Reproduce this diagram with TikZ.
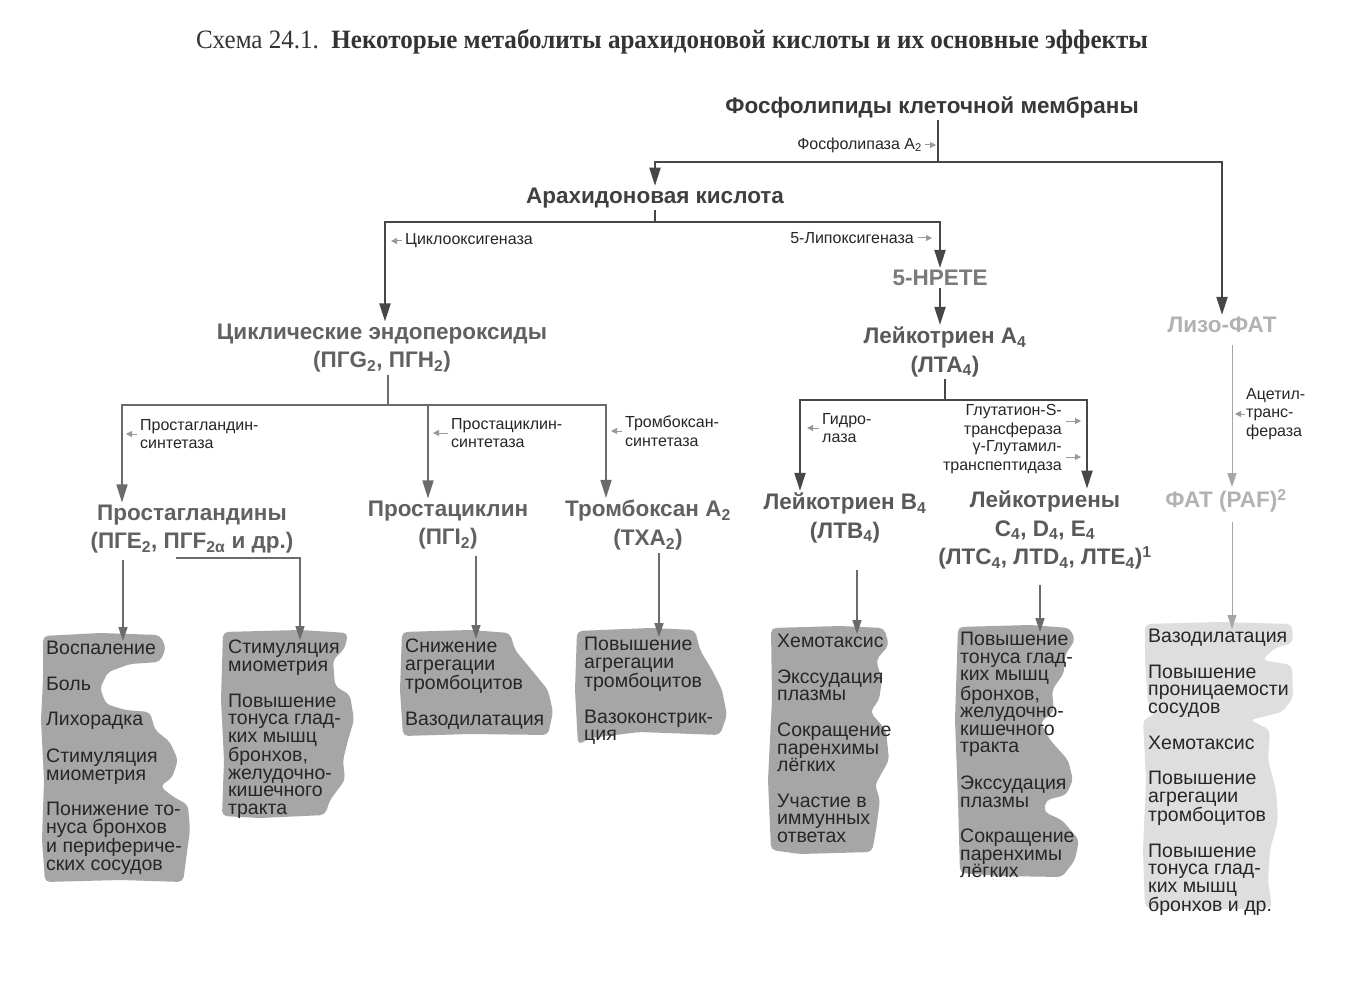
\documentclass[tikz,border=0pt]{standalone}
\usepackage{fontspec}
\setmainfont{Liberation Sans}
\newfontfamily\titleserif{Liberation Serif}
\usepackage{graphicx}
\usetikzlibrary{arrows.meta}
\newcommand\lsub[1]{\textsubscript{#1}}
\newcommand\lsup[1]{\textsuperscript{#1}}
\newcommand\gp{\\[18pt]}
\begin{document}
\begin{tikzpicture}[x=1pt,y=-1pt,
  biglab/.style={font=\bfseries\fontsize{22.5}{28.5}\selectfont, align=center, inner sep=2pt},
  enz/.style={font=\fontsize{16}{18.5}\selectfont, text=black!85, inner sep=0pt, align=left},
  effect/.style={font=\fontsize{19.5}{17.6}\selectfont, align=left, inner sep=0pt, anchor=north west, text=black!85},
  lnmain/.style={draw=black!72, line width=2pt},
  lnmid/.style={draw=black!58, line width=1.6pt},
  lnthin/.style={draw=black!35, line width=1pt},
  arrowbig/.style={-{Triangle[length=18pt,width=11pt]}},
  arrowsm/.style={-{Triangle[length=14pt,width=9pt]}},
  enzarr/.style={draw=black!40, line width=1pt, -{Triangle[length=6pt,width=6pt]}},
  fx/.style={fill=black!35, draw=none, rounded corners=5pt},
  fxl/.style={fill=black!13, draw=none, rounded corners=5pt}]
\useasboundingbox (0,0) rectangle (1351,984);
\fill[white] (0,0) rectangle (1351,984);

% title
\node[text=black!80, inner sep=0pt] (title) at (672,42)
  {\titleserif\fontsize{26.5}{28}\selectfont\resizebox{952pt}{\height}{Схема 24.1.\ \ \textbf{Некоторые метаболиты арахидоновой кислоты и их основные эффекты}}};

% main labels
\node[biglab, text=black!78] (phos) at (932,107) {Фосфолипиды клеточной мембраны};
\node[biglab, text=black!75] (arach) at (655,198) {Арахидоновая кислота};
\node[biglab, text=black!62] (cyclo) at (382,348) {Циклические эндопероксиды\\(ПГG\lsub{2}, ПГН\lsub{2})};
\node[biglab, text=black!52] (hpete) at (940,278) {5-HPETE};
\node[biglab, text=black!65] (lta) at (945,352) {Лейкотриен A\lsub{4}\\(ЛТА\lsub{4})};
\node[biglab, text=black!30] (lyso) at (1222,325) {Лизо-ФАТ};
\node[biglab, text=black!62] (pg) at (192,529) {Простагландины\\(ПГЕ\lsub{2}, ПГF\lsub{2α} и др.)};
\node[biglab, text=black!62] (pgi) at (448,525) {Простациклин\\(ПГI\lsub{2})};
\node[biglab, text=black!62] (tx) at (648,525) {Тромбоксан A\lsub{2}\\(TXA\lsub{2})};
\node[biglab, text=black!65] (ltb) at (845,518) {Лейкотриен B\lsub{4}\\(ЛТВ\lsub{4})};
\node[biglab, text=black!65] (ltc) at (1045,530) {Лейкотриены\\C\lsub{4}, D\lsub{4}, E\lsub{4}\\(ЛТС\lsub{4}, ЛТD\lsub{4}, ЛТЕ\lsub{4})\lsup{1}};
\node[biglab, text=black!30] (paf) at (1226,501) {ФАТ (PAF)\lsup{2}};

% enzyme labels
\node[enz, anchor=east] (pla) at (922,145) {Фосфолипаза A\lsub{2}};
\node[enz, anchor=west] (cox) at (405,241) {Циклооксигеназа};
\node[enz, anchor=east] (lox) at (914,238) {5-Липоксигеназа};
\node[enz, anchor=west] (pgs) at (140,434) {Простагландин-\\синтетаза};
\node[enz, anchor=west] (pcs) at (451,433) {Простациклин-\\синтетаза};
\node[enz, anchor=west] (txs) at (625,431) {Тромбоксан-\\синтетаза};
\node[enz, anchor=west] (hyd) at (822,428) {Гидро-\\лаза};
\node[enz, anchor=east, align=right] (gst) at (1062,421) {Глутатион-S-\\трансфераза};
\node[enz, anchor=east, align=right] (ggt) at (1062,457) {γ-Глутамил-\\транспептидаза};
\node[enz, anchor=west] (act) at (1246,414) {Ацетил-\\транс-\\фераза};

% enzyme arrows
\draw[enzarr] ([xshift=3pt]pla.east) -- ([xshift=14pt]pla.east);
\draw[enzarr] ([xshift=-3pt]cox.west) -- ([xshift=-14pt]cox.west);
\draw[enzarr] ([xshift=4pt]lox.east) -- ([xshift=18pt]lox.east);
\draw[enzarr] ([xshift=-3pt]pgs.west) -- ([xshift=-14pt]pgs.west);
\draw[enzarr] ([xshift=-3pt]pcs.west) -- ([xshift=-18pt]pcs.west);
\draw[enzarr] ([xshift=-3pt]txs.west) -- ([xshift=-14pt]txs.west);
\draw[enzarr] ([xshift=-3pt]hyd.west) -- ([xshift=-15pt]hyd.west);
\draw[enzarr] ([xshift=4pt]gst.east) -- ([xshift=19pt]gst.east);
\draw[enzarr] ([xshift=4pt]ggt.east) -- ([xshift=19pt]ggt.east);
\draw[enzarr] ([xshift=-1pt]act.west) -- ([xshift=-11pt]act.west);

% main connectors
\coordinate (j1) at (938,162);
\coordinate (jl1) at (655,162);
\coordinate (jr1) at (1222,162);
\draw[lnmain] (phos.south -| j1) -- (j1);
\draw[lnmain, arrowbig] (j1) -- (jl1) -- (jl1 |- arach.north);
\draw[lnmain, arrowbig] (j1) -- (jr1) -- (jr1 |- lyso.north);

\coordinate (j2) at (655,222);
\coordinate (jl2) at (385,222);
\coordinate (jr2) at (940,222);
\draw[lnmain] (arach.south -| j2) -- (j2);
\draw[lnmain, arrowbig] (j2) -- (jl2) -- (jl2 |- cyclo.north);
\draw[lnmain, arrowbig] (j2) -- (jr2) -- (jr2 |- hpete.north);
\draw[lnmain, arrowbig] (hpete.south) -- (hpete.south |- lta.north);

\coordinate (j3) at (388,405);
\coordinate (ja3) at (122,405);
\coordinate (jb3) at (428,405);
\coordinate (jc3) at (606,405);
\draw[lnmid] (cyclo.south -| j3) -- (j3);
\draw[lnmid, arrowbig] (j3) -- (ja3) -- (ja3 |- pg.north);
\draw[lnmid, arrowbig] (jb3) -- (jb3 |- pgi.north);
\draw[lnmid, arrowbig] (j3) -- (jc3) -- (jc3 |- tx.north);

\coordinate (j4) at (945,400);
\coordinate (ja4) at (800,400);
\coordinate (jb4) at (1087,400);
\draw[lnmain] (lta.south -| j4) -- (j4);
\draw[lnmain, arrowbig] (j4) -- (ja4) -- (ja4 |- ltb.north);
\draw[lnmain, arrowbig] (j4) -- (jb4) -- (jb4 |- ltc.north);

\coordinate (j5) at (1232,345);
\draw[lnthin, arrowsm] (j5) -- (j5 |- paf.north);

% effect boxes
\path[fx] (43,636) -- (100,633) -- (160,635) -- (166,648) -- (160,662) -- (130,664) -- (108,672) -- (100,688) -- (106,704) -- (125,710) -- (150,712) -- (155,730) -- (170,742) -- (178,760) -- (172,778) -- (160,786) -- (172,796) -- (188,805) -- (190,830) -- (186,860) -- (183,882) -- (120,880) -- (45,882) -- (42,840) -- (44,780) -- (41,720) -- (43,680) -- cycle;
\path[fx] (223,632) -- (300,630) -- (348,633) -- (345,648) -- (333,660) -- (335,686) -- (350,695) -- (354,720) -- (348,740) -- (343,760) -- (345,780) -- (330,800) -- (325,815) -- (260,818) -- (222,816) -- (224,760) -- (221,700) -- cycle;
\path[fx] (402,632) -- (470,630) -- (510,633) -- (515,650) -- (530,668) -- (548,690) -- (553,712) -- (548,735) -- (470,734) -- (403,736) -- (400,690) -- cycle;
\path[fx] (577,631) -- (650,628) -- (695,630) -- (700,650) -- (712,670) -- (722,690) -- (727,715) -- (720,735) -- (640,732) -- (590,738) -- (578,745) -- (575,690) -- cycle;
\path[fx] (771,628) -- (840,626) -- (884,628) -- (889,645) -- (876,660) -- (882,680) -- (879,700) -- (870,712) -- (886,730) -- (889,760) -- (875,785) -- (880,800) -- (876,830) -- (872,852) -- (800,854) -- (771,850) -- (768,780) -- (772,700) -- cycle;
\path[fx] (958,627) -- (1030,625) -- (1070,628) -- (1075,640) -- (1065,655) -- (1064,673) -- (1052,690) -- (1054,712) -- (1040,722) -- (1050,740) -- (1068,760) -- (1073,780) -- (1066,795) -- (1046,800) -- (1044,812) -- (1062,820) -- (1079,840) -- (1075,860) -- (1062,877) -- (1000,876) -- (960,873) -- (958,800) -- (955,720) -- cycle;
\path[fxl] (1145,624) -- (1220,622) -- (1292,624) -- (1293,643) -- (1275,648) -- (1262,660) -- (1292,665) -- (1293,698) -- (1282,712) -- (1250,720) -- (1270,730) -- (1268,760) -- (1276,790) -- (1278,820) -- (1270,850) -- (1268,880) -- (1272,908) -- (1200,910) -- (1145,908) -- (1143,850) -- (1146,780) -- (1143,720) -- (1158,712) -- (1148,705) -- (1145,660) -- cycle;

% effect texts
\node[effect] (e1) at (46,641) {Воспаление\gp Боль\gp Лихорадка\gp Стимуляция\\миометрия\gp Понижение то-\\нуса бронхов\\и периферичe-\\ских сосудов};
\node[effect] (e2) at (228,640) {Стимуляция\\миометрия\gp Повышение\\тонуса глад-\\ких мышц\\бронхов,\\желудочно-\\кишечного\\тракта};
\node[effect] (e3) at (405,639) {Снижение\\агрегации\\тромбоцитов\gp Вазодилатация};
\node[effect] (e4) at (584,637) {Повышение\\агрегации\\тромбоцитов\gp Вазоконстрик-\\ция};
\node[effect] (e5) at (777,634) {Хемотаксис\gp Экссудация\\плазмы\gp Сокращение\\паренхимы\\лёгких\gp Участие в\\иммунных\\ответах};
\node[effect] (e6) at (960,632) {Повышение\\тонуса глад-\\ких мышц\\бронхов,\\желудочно-\\кишечного\\тракта\gp Экссудация\\плазмы\gp Сокращение\\паренхимы\\лёгких};
\node[effect] (e7) at (1148,629) {Вазодилатация\gp Повышение\\проницаемости\\сосудов\gp Хемотаксис\gp Повышение\\агрегации\\тромбоцитов\gp Повышение\\тонуса глад-\\ких мышц\\бронхов и др.};

% connectors to effect boxes
\coordinate (a1) at (123,560);
\coordinate (h2) at (176,558);
\coordinate (a2) at (300,558);
\coordinate (a3) at (476,556);
\coordinate (a4) at (659,553);
\coordinate (a5) at (857,570);
\coordinate (a6) at (1040,585);
\coordinate (a7) at (1232,522);
\draw[lnmid, arrowsm] (a1) -- (a1 |- e1.north);
\draw[lnmid, arrowsm] (h2) -- (a2) -- (a2 |- e2.north);
\draw[lnmid, arrowsm] (a3) -- (a3 |- e3.north);
\draw[lnmid, arrowsm] (a4) -- (a4 |- e4.north);
\draw[lnmid, arrowsm] (a5) -- (a5 |- e5.north);
\draw[lnmid, arrowsm] (a6) -- (a6 |- e6.north);
\draw[lnthin, arrowsm] (a7) -- (a7 |- e7.north);
\end{tikzpicture}
\end{document}
